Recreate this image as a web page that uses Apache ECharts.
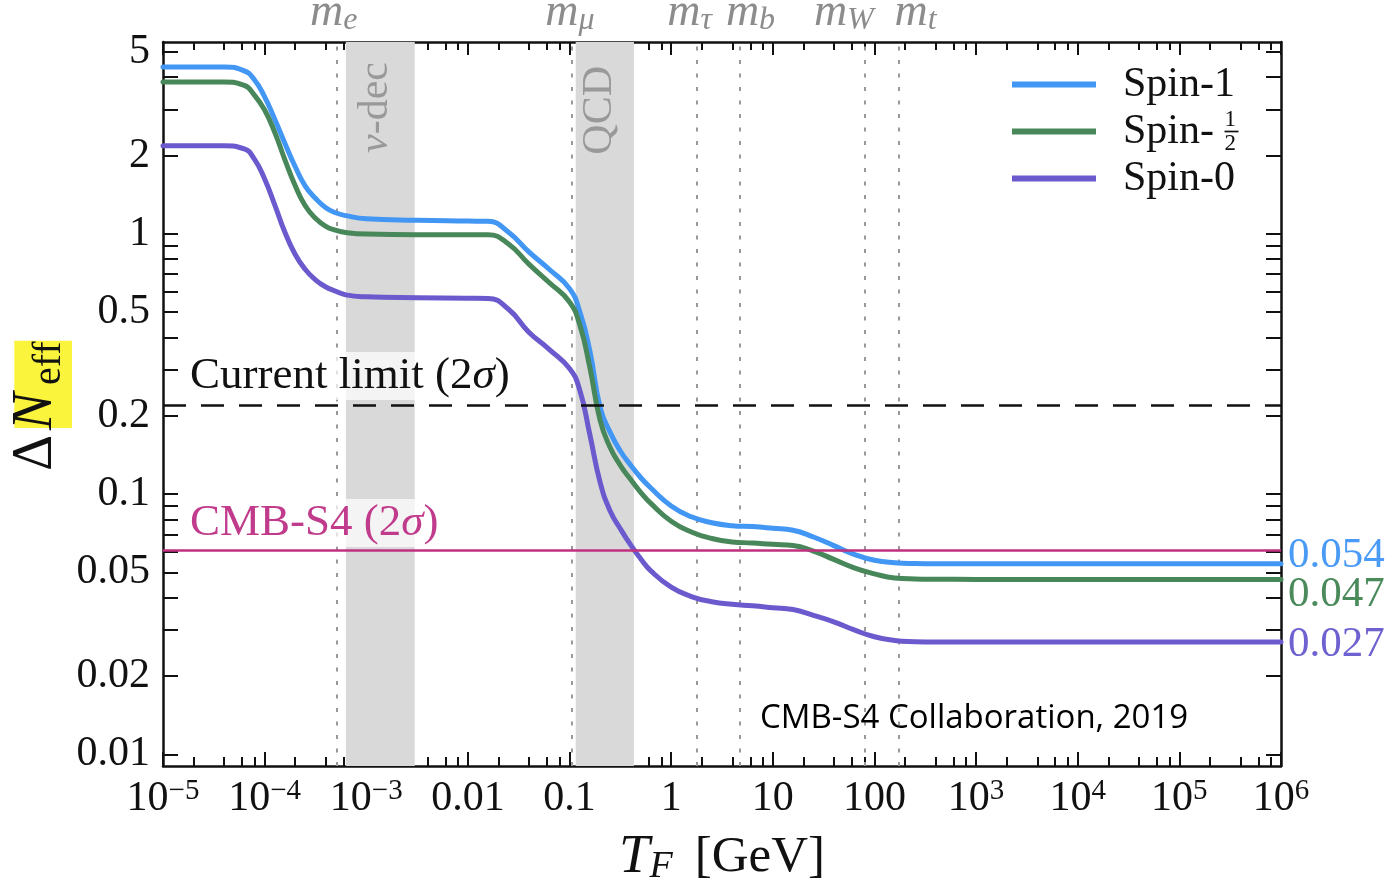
<!DOCTYPE html>
<html>
<head>
<meta charset="utf-8">
<script src="https://cdn.jsdelivr.net/npm/echarts@6/dist/echarts.min.js"></script>
<style>
  html, body { margin: 0; padding: 0; background: #fff; }
  #chart { width: 1394px; height: 892px; }
</style>
</head>
<body>
<div id="chart"></div>
<script>
// Freeze-out temperature grid (GeV) and the Delta N_eff contribution of each species
const temperatureGeV = [1e-5, 4e-5, 6.3e-5, 7.9e-5, 1e-4, 1.26e-4, 1.58e-4, 2e-4, 2.5e-4, 3.16e-4,
  4e-4, 5e-4, 6.3e-4, 1e-3, 3.16e-3, 0.01, 0.0158, 0.0251, 0.0398, 0.063,
  0.1, 0.126, 0.158, 0.2, 0.251, 0.316, 0.398, 0.501, 0.631, 1,
  1.58, 2.51, 3.98, 6.31, 10, 15.8, 25.1, 39.8, 63.1, 100,
  158, 251, 398, 1000, 1e4, 1e5, 1e6];
const spin1 = [4.38, 4.38, 4.23, 3.92, 3.36, 2.75, 2.23, 1.81, 1.53, 1.37,
  1.26, 1.205, 1.175, 1.143, 1.128, 1.12, 1.117, 1.014, 0.852, 0.731,
  0.616, 0.503, 0.357, 0.2155, 0.1727, 0.1464, 0.1293, 0.1158, 0.1055, 0.09,
  0.0818, 0.0776, 0.0756, 0.075, 0.0739, 0.0726, 0.0684, 0.0634, 0.0587, 0.0557,
  0.0545, 0.0541, 0.054, 0.054, 0.054, 0.054, 0.054];
const spinHalf = [3.83, 3.83, 3.72, 3.42, 2.99, 2.45, 1.93, 1.53, 1.285, 1.148,
  1.069, 1.033, 1.012, 0.998, 0.993, 0.993, 0.992, 0.914, 0.765, 0.65,
  0.547, 0.447, 0.308, 0.192, 0.151, 0.129, 0.114, 0.1016, 0.0921, 0.0787,
  0.0715, 0.0675, 0.0655, 0.0649, 0.0641, 0.0635, 0.0604, 0.0561, 0.0521, 0.0494,
  0.0476, 0.0472, 0.0471, 0.047, 0.047, 0.047, 0.047];
const spin0 = [2.18, 2.18, 2.12, 1.94, 1.625, 1.29, 1.016, 0.833, 0.731, 0.666,
  0.625, 0.602, 0.583, 0.573, 0.568, 0.566, 0.565, 0.513, 0.419, 0.36,
  0.3035, 0.251, 0.17, 0.111, 0.0861, 0.0736, 0.0639, 0.0564, 0.0507, 0.0439,
  0.0404, 0.0386, 0.0377, 0.0372, 0.0366, 0.036, 0.0342, 0.0323, 0.0301, 0.0283,
  0.0274, 0.0271, 0.027, 0.027, 0.027, 0.027, 0.027];

const seriesNames = ['Spin-1', 'Spin-½', 'Spin-0'];

// Particle mass thresholds (GeV) and the shaded transition windows
const massNames = ['e', 'μ', 'τ', 'b', 'W', 't'];
const massValues = [0.000511, 0.1057, 1.777, 4.7, 80.4, 173];
const bandNames = ['ν-dec', 'QCD'];
const bandRanges = [[6.3e-4, 3.0e-3], [0.115, 0.43]];

// Horizontal sensitivity levels
const currentLimit = 0.22;
const cmbS4Limit = 0.061;

// Axis ticks and labels
const xMajorTicks = [1e-5, 1e-4, 1e-3, 0.01, 0.1, 1, 10, 100, 1e3, 1e4, 1e5, 1e6];
const xTickText = ['10^−5', '10^−4', '10^−3', '0.01', '0.1', '1', '10', '100', '10^3', '10^4', '10^5', '10^6'];
const xMinorSubs = [2, 4, 6, 8];
const yLabelTicks = [0.01, 0.02, 0.05, 0.1, 0.2, 0.5, 1, 2, 5];
const yTicks = [0.01, 0.02, 0.03, 0.04, 0.05, 0.06, 0.07, 0.08, 0.09,
  0.1, 0.2, 0.3, 0.4, 0.5, 0.6, 0.7, 0.8, 0.9, 1, 2, 3, 4, 5];

const SERIF = '"Liberation Serif", "Times New Roman", serif';
const INK = '#111';
const colors = ['#4296f4', '#488759', '#6a5acd'];
const labelColors = ['#4a9bf5', '#4a8a5b', '#6d62cf'];
const endOffsets = [[0, -8], [0, 15], [0, 3]];
const massLabelShift = [-3, -2, -7, 11, -21, 17];

const xMinorTicks = [];
for (let i = 0; i < xMajorTicks.length - 1; i++) {
  xMinorSubs.forEach(s => xMinorTicks.push(xMajorTicks[i] * s));
}

function xLabel(v) {
  const i = xMajorTicks.findIndex(t => Math.abs(Math.log10(t) - Math.log10(v)) < 1e-6);
  if (i < 0) return '';
  const txt = xTickText[i];
  if (txt.indexOf('^') >= 0) {
    const parts = txt.split('^');
    return '{b|' + parts[0] + '}{s|' + parts[1] + '}';
  }
  return txt;
}

const frameLine = { show: true, onZero: false, lineStyle: { color: INK, width: 2.5 } };
const tickStyle = { color: INK, width: 2 };

const chart = echarts.init(document.getElementById('chart'), null, { renderer: 'canvas' });

const xBase = { type: 'log', min: 1e-5, max: 1e6, splitLine: { show: false }, minorTick: { show: false } };
const yBase = { type: 'log', min: 0.00902, max: 5.46, splitLine: { show: false }, minorTick: { show: false } };

const option = {
  animation: false,
  backgroundColor: '#ffffff',
  textStyle: { fontFamily: SERIF },
  grid: { left: 163, right: 113, top: 42, bottom: 126, outerBoundsMode: 'none', containLabel: false },
  legend: {
    orient: 'vertical', left: 1007, top: 56,
    itemWidth: 84, itemHeight: 6, itemGap: 0, icon: 'rect', selectedMode: false,
    data: seriesNames,
    formatter: n => n === 'Spin-½' ? 'Spin- {n|1}{d|2}{b| }' : n,
    textStyle: {
      fontFamily: SERIF, fontSize: 42, lineHeight: 47, color: INK, padding: [0, 0, 0, 22],
      rich: {
        n: { fontFamily: SERIF, fontSize: 23, color: INK, width: 0.01, align: 'left', verticalAlign: 'top', lineHeight: 36 },
        d: { fontFamily: SERIF, fontSize: 23, color: INK, width: 0.01, align: 'left', verticalAlign: 'bottom', lineHeight: 14 },
        b: { fontSize: 1, width: 14, height: 1.7, lineHeight: 1.7, backgroundColor: INK, verticalAlign: 'middle' }
      }
    }
  },
  xAxis: [
    Object.assign({}, xBase, {
      position: 'bottom',
      axisLine: frameLine,
      axisTick: { show: true, inside: true, length: 14, customValues: xMajorTicks, lineStyle: tickStyle },
      axisLabel: {
        show: true, customValues: xMajorTicks, formatter: xLabel, margin: 11,
        color: INK, fontFamily: SERIF, fontSize: 42, lineHeight: 44,
        rich: {
          b: { fontFamily: SERIF, fontSize: 42, lineHeight: 44, color: INK },
          s: { fontFamily: SERIF, fontSize: 29, lineHeight: 26, verticalAlign: 'top', color: INK }
        }
      },
      name: '{t|T}{f|F}{g|[GeV]}', nameLocation: 'middle', nameGap: 64,
      nameTextStyle: {
        fontFamily: SERIF, fontSize: 50, lineHeight: 56, color: INK,
        rich: {
          t: { fontFamily: SERIF, fontStyle: 'italic', fontSize: 55, lineHeight: 56, color: INK },
          f: { fontFamily: SERIF, fontStyle: 'italic', fontSize: 38, lineHeight: 29, verticalAlign: 'bottom', color: INK },
          g: { fontFamily: SERIF, fontSize: 51, lineHeight: 56, color: INK, padding: [0, 0, 0, 22] }
        }
      }
    }),
    Object.assign({}, xBase, {
      position: 'top',
      axisLine: frameLine,
      axisTick: { show: true, inside: true, length: 13, customValues: xMajorTicks, lineStyle: tickStyle },
      axisLabel: { show: false }
    }),
    Object.assign({}, xBase, {
      position: 'bottom',
      axisLine: { show: false },
      axisTick: { show: true, inside: true, length: 9, customValues: xMinorTicks, lineStyle: tickStyle },
      axisLabel: { show: false }
    }),
    Object.assign({}, xBase, {
      position: 'top',
      axisLine: { show: false },
      axisTick: { show: true, inside: true, length: 8, customValues: xMinorTicks, lineStyle: tickStyle },
      axisLabel: { show: false }
    })
  ],
  yAxis: [
    Object.assign({}, yBase, {
      position: 'left',
      axisLine: frameLine,
      axisTick: { show: true, inside: true, length: 15, customValues: yTicks, lineStyle: tickStyle },
      axisLabel: {
        show: true, customValues: yLabelTicks, margin: 13,
        formatter: v => String(+(+v).toPrecision(6)),
        color: INK, fontFamily: SERIF, fontSize: 42
      }
    }),
    Object.assign({}, yBase, {
      position: 'right',
      axisLine: frameLine,
      axisTick: { show: true, inside: true, length: 15, customValues: yTicks, lineStyle: tickStyle },
      axisLabel: { show: false }
    })
  ],
  series: [
    // shaded windows and particle-mass thresholds
    {
      type: 'line', data: [], xAxisIndex: 0, yAxisIndex: 0, silent: true, clip: false,
      markArea: {
        silent: true, z: 1,
        itemStyle: { color: '#d9d9d9' },
        label: { show: false },
        data: bandRanges.map(r => [{ xAxis: r[0] }, { xAxis: r[1] }])
      },
      markLine: {
        silent: true, z: 1, symbol: 'none', precision: 8,
        lineStyle: { type: [4, 9.5], color: '#999999', width: 2 },
        label: {
          show: true, position: 'end', distance: 5, color: '#8c8c8c',
          rich: {
            m: { fontFamily: SERIF, fontStyle: 'italic', fontSize: 46, lineHeight: 48, color: '#8c8c8c' },
            s: { fontFamily: SERIF, fontStyle: 'italic', fontSize: 32, lineHeight: 30, verticalAlign: 'bottom', color: '#8c8c8c' }
          }
        },
        data: massNames.map((n, i) => ({
          xAxis: massValues[i],
          label: { formatter: '{m|m}{s|' + n + '}', offset: [massLabelShift[i], 0] }
        }))
      }
    },
    // current bound and CMB-S4 forecast
    {
      type: 'line', data: [], xAxisIndex: 0, yAxisIndex: 0, silent: true, clip: false,
      markLine: {
        silent: true, z: 5, symbol: 'none', precision: 8,
        data: [
          {
            yAxis: currentLimit,
            lineStyle: { type: [23, 15], color: INK, width: 2.5 },
            label: {
              show: true, position: 'insideStartTop', distance: [21, 5],
              formatter: 'Current limit (2{i|σ})',
              color: INK, fontFamily: SERIF, fontSize: 45, lineHeight: 40,
              backgroundColor: 'rgba(255,255,255,0.7)', padding: [4, 6, 4, 6],
              rich: { i: { fontFamily: SERIF, fontStyle: 'italic', fontSize: 45, lineHeight: 40, color: INK } }
            }
          },
          {
            yAxis: cmbS4Limit,
            lineStyle: { type: 'solid', color: '#c0307f', width: 2.5 },
            label: {
              show: true, position: 'insideStartTop', distance: [21, 3],
              formatter: 'CMB-S4 (2{i|σ})',
              color: '#c13b8c', fontFamily: SERIF, fontSize: 45, lineHeight: 40,
              backgroundColor: 'rgba(255,255,255,0.7)', padding: [4, 6, 4, 6],
              rich: { i: { fontFamily: SERIF, fontStyle: 'italic', fontSize: 45, lineHeight: 40, color: '#c13b8c' } }
            }
          }
        ]
      }
    }
  ].concat([spin1, spinHalf, spin0].map((vals, k) => ({
    name: seriesNames[k],
    type: 'line', xAxisIndex: 0, yAxisIndex: 0, z: 3,
    data: temperatureGeV.map((t, i) => [t, vals[i]]),
    showSymbol: false, symbol: 'none',
    smooth: 0.5,
    color: colors[k],
    lineStyle: { color: colors[k], width: 5, cap: 'round', join: 'round' },
    endLabel: {
      show: true, distance: 7, offset: endOffsets[k],
      formatter: p => String(p.value[1]),
      color: labelColors[k], fontFamily: SERIF, fontSize: 43
    }
  })))
};

chart.setOption(option);

// Text annotations placed through the axis scales
const px = v => chart.convertToPixel({ xAxisIndex: 0 }, v);
const bandLabelTop = [62, 66];
const graphics = bandNames.map((name, i) => {
  const cx = px(Math.sqrt(bandRanges[i][0] * bandRanges[i][1])) - 4.5;
  const txt = name.charAt(0) === 'ν' ? '{i|ν}-dec' : name;
  return {
    type: 'text', x: cx, y: bandLabelTop[i], rotation: Math.PI / 2, z: 10, silent: true,
    style: {
      text: txt, fontFamily: SERIF, fontSize: 42, fill: '#999999',
      textAlign: 'right', textVerticalAlign: 'middle',
      rich: { i: { fontFamily: SERIF, fontStyle: 'italic', fontSize: 42, fill: '#999999' } }
    }
  };
});

// Y-axis title: Delta N_eff with the highlighted symbol
graphics.push({
  type: 'group', x: 55, y: 405, rotation: Math.PI / 2, silent: true,
  children: [
    { type: 'rect', z: 0, shape: { x: -23, y: -40.7, width: 87.3, height: 57.7 }, style: { fill: '#fbf43c' } },
    { type: 'text', z: 1, x: -66, y: -18.9, style: { text: 'Δ', fontFamily: SERIF, fontSize: 56, fill: INK, textAlign: 'left', textVerticalAlign: 'middle' } },
    { type: 'text', z: 1, x: -25, y: -18.9, style: { text: 'N', fontFamily: SERIF, fontStyle: 'italic', fontSize: 56, fill: INK, textAlign: 'left', textVerticalAlign: 'middle' } },
    { type: 'text', z: 1, x: 20, y: -5.5, style: { text: 'eff', fontFamily: SERIF, fontSize: 40, fill: INK, textAlign: 'left', textVerticalAlign: 'middle' } }
  ]
});

// Source credit
graphics.push({
  type: 'text', x: 760, y: 719, z: 10, silent: true,
  style: { text: 'CMB-S4 Collaboration, 2019', fontFamily: '"Open Sans", "Noto Sans", sans-serif', fontSize: 33, fill: '#000', textAlign: 'left', textVerticalAlign: 'middle' }
});

chart.setOption({ graphic: graphics });
</script>
</body>
</html>
